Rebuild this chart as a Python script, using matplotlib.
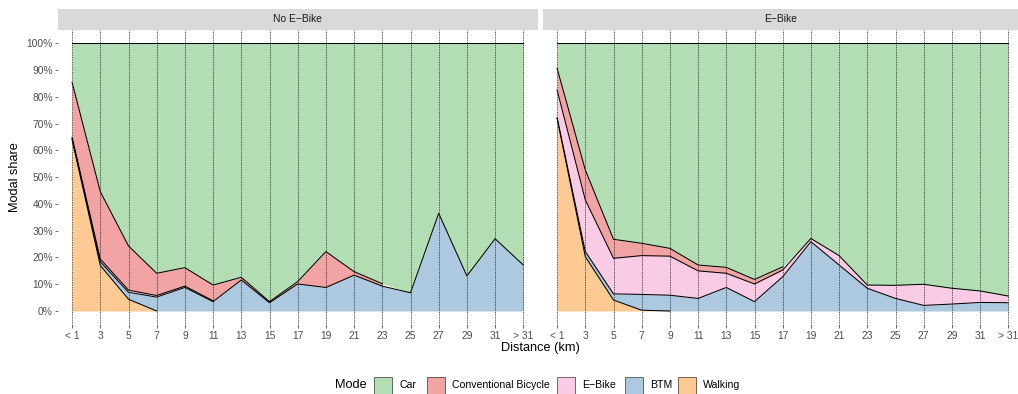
"""Modal share by trip distance, with and without an e-bike (stacked areas, two facets)."""
import numpy as np
import matplotlib; matplotlib.use("Agg")
import matplotlib.pyplot as plt
from matplotlib.patches import Rectangle

plt.rcParams["font.family"] = ["Liberation Sans", "DejaVu Sans"]

DIST = ["< 1", "3", "5", "7", "9", "11", "13", "15", "17", "19", "21", "23", "25", "27", "29", "31", "> 31"]
MODES = ["Car", "Conventional Bicycle", "E\u2212Bike", "BTM", "Walking"]
COLORS = {"Car": "#B3DEB4", "Conventional Bicycle": "#F2A3A4", "E\u2212Bike": "#F9CBE4",
          "BTM": "#ADC9E0", "Walking": "#FDCA93"}
nan = np.nan

# shares in % (nan = mode not observed at that distance); car is the remainder to 100 %
no_walk = [64, 17, 4.4, 0, nan, nan, nan, nan, nan, nan, nan, nan, nan, nan, nan, nan, nan]
no_btm = [0.5, 1.4, 2.6, 5.2, 8.8, 3.5, 11.6, 3.1, 10.1, 8.8, 13.4, 9.3, 6.8, 36.5, 13.1, 27, 17.2]
no_ebike = [0.4, 1.0, 0.8, 0.6, 0.5, 0.3, nan, nan, nan, nan, nan, nan, nan, nan, nan, nan, nan]
no_bike = [20.5, 25.2, 16.5, 8.3, 6.9, 5.9, 1.0, 0.4, 0.9, 13.4, 1.3, 0.9, nan, nan, nan, nan, nan]

eb_walk = [72, 20.3, 4.1, 0.3, 0, nan, nan, nan, nan, nan, nan, nan, nan, nan, nan, nan, nan]
eb_btm = [0.3, 1.9, 2.3, 5.9, 5.9, 4.7, 8.8, 3.5, 12.8, 25.9, 17.2, 8.5, 4.7, 2.1, 2.6, 3.2, 3.1]
eb_ebike = [10.3, 19.3, 13.3, 14.5, 14.6, 10.3, 5.3, 6.6, 2.5, 1.2, 3.5, 1.2, 4.9, 7.9, 5.9, 4.3, 2.5]
eb_bike = [8.1, 11.2, 7.1, 4.6, 2.9, 2.2, 2.2, 1.7, 1.2, nan, nan, nan, nan, nan, nan, nan, nan]

PANELS = [("No E\u2212Bike", {"Walking": no_walk, "BTM": no_btm, "E\u2212Bike": no_ebike,
                              "Conventional Bicycle": no_bike}),
          ("E\u2212Bike", {"Walking": eb_walk, "BTM": eb_btm, "E\u2212Bike": eb_ebike,
                          "Conventional Bicycle": eb_bike})]

W, H = 1018, 394
fig = plt.figure(figsize=(W / 100, H / 100), dpi=100)

def box(l, t, r, b):  # pixel box -> figure fraction rect
    return [l / W, 1 - b / H, (r - l) / W, (b - t) / H]

PX = 28.2  # pixels per distance step
panels_px = [(58, 537.7), (543, 1018)]
x = np.arange(len(DIST))

for i, (title, shares) in enumerate(PANELS):
    l, r = panels_px[i]
    ax = fig.add_axes(box(l, 30, r, 324.4))
    ax.set_xlim(-0.5, -0.5 + (r - l) / PX)
    ax.set_ylim(-5, 105)
    base = np.zeros(len(x))
    for m in ["Walking", "BTM", "E\u2212Bike", "Conventional Bicycle"]:
        v = np.array(shares[m], dtype=float)
        ok = ~np.isnan(v)
        top = base + np.nan_to_num(v)
        ax.fill_between(x[ok], base[ok], top[ok], color=COLORS[m], lw=0, zorder=1)
        ax.plot(x[ok], top[ok], color="black", lw=0.75, zorder=3)
        base = top
    ax.fill_between(x, base, 100, color=COLORS["Car"], lw=0, zorder=1)
    ax.plot(x, np.full(len(x), 100.0), color="black", lw=0.75, zorder=3)
    for xi in x:
        ax.axvline(xi, color="#222222", lw=0.6, ls=(0, (1, 1)), zorder=4)
    for s in ax.spines.values():
        s.set_visible(False)
    ax.set_xticks(x)
    ax.set_xticklabels(DIST, fontsize=7.4, color="#4D4D4D")
    ax.tick_params(axis="x", length=2.6, width=0.5, color="#333333", pad=2)
    ax.set_yticks(range(0, 101, 10))
    if i == 0:
        ax.set_yticklabels([f"{v}%" for v in range(0, 101, 10)], fontsize=7.4, color="#4D4D4D")
        ax.tick_params(axis="y", length=2.2, width=0.5, color="#333333", pad=1.5)
        ax.set_ylabel("Modal share", fontsize=9.2, labelpad=4)
    else:
        ax.tick_params(axis="y", length=0, labelleft=False)
    sx = fig.add_axes(box(l, 9, r, 30))
    sx.set_facecolor("#D9D9D9")
    sx.set_xticks([]); sx.set_yticks([])
    for s in sx.spines.values():
        s.set_visible(False)
    sx.text(0.5, 0.5, title, ha="center", va="center", fontsize=7.4, color="#1A1A1A",
            transform=sx.transAxes)

fig.text(540 / W, 1 - 348 / H, "Distance (km)", ha="center", va="center", fontsize=9.2)

# legend: title on the left, keys in a row
ly = 385.5
fig.text(335 / W, 1 - ly / H, "Mode", ha="left", va="center", fontsize=9.2)
key_x = [374, 427, 557, 625, 678]
for kx, m in zip(key_x, MODES):
    fig.patches.append(Rectangle(((kx) / W, 1 - (ly + 8.5) / H), 17.5 / W, 17 / H,
                                 transform=fig.transFigure, facecolor=COLORS[m],
                                 edgecolor="#333333", lw=0.5))
    fig.text((kx + 25) / W, 1 - ly / H, m, ha="left", va="center", fontsize=7.6)

fig.savefig("out.png", dpi=100)
